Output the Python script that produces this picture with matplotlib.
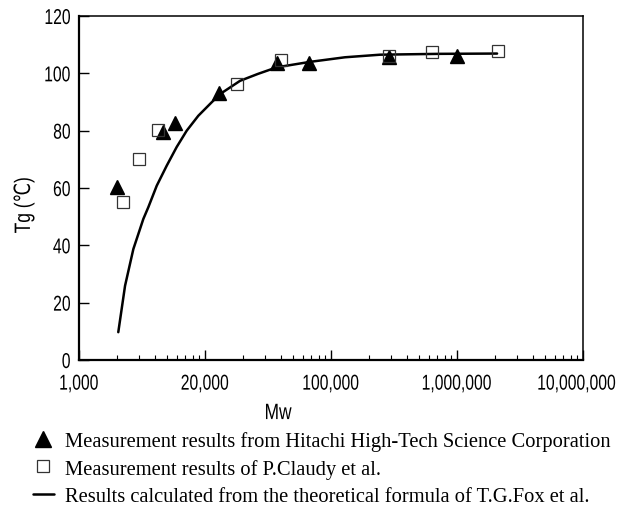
import matplotlib
matplotlib.use("Agg")
import matplotlib.pyplot as plt
from matplotlib.patheffects import AbstractPathEffect
from matplotlib.transforms import Affine2D, ScaledTranslation

# ---------------- data ----------------
hitachi_mw = [2000, 4640, 5780, 12900, 37000, 67500, 290000, 1000000]
hitachi_tg = [60.3, 79.5, 82.6, 93.1, 103.6, 103.6, 105.7, 106.0]

claudy_mw = [2230, 2990, 4240, 17900, 40000, 290000, 630000, 2110000]
claudy_tg = [55.1, 70.1, 80.2, 96.3, 104.6, 106.0, 107.4, 107.8]

fox_mw = [2050, 2320, 2700, 3240, 3550, 4140, 4970, 5960, 7160, 8850,
          11300, 13200, 19000, 26300, 37100, 68100, 129000, 245000,
          733000, 2080000]
fox_tg = [9.7, 25.9, 38.7, 49.2, 53.3, 60.8, 67.8, 74.3, 80.0, 85.2,
          89.9, 92.8, 97.4, 99.8, 102.1, 104.0, 105.6, 106.5,
          106.8, 106.9]

x_ticks = [1000, 10000, 100000, 1000000, 10000000]
x_tick_labels = ["1,000", "20,000", "100,000", "1,000,000", "10,000,000"]
y_ticks = [0, 20, 40, 60, 80, 100, 120]

legend_labels = [
    "Measurement results from Hitachi High-Tech Science Corporation",
    "Measurement results of P.Claudy et al.",
    "Results calculated from the theoretical formula of T.G.Fox et al.",
]


# tall, narrow look of the condensed sans-serif axis texts:
# the text is set at its true (narrow) width and stretched vertically
class Stretch(AbstractPathEffect):
    def __init__(self, sy=1.37):
        super().__init__()
        self.sy = sy

    def draw_path(self, renderer, gc, tpath, affine, rgbFace=None):
        ext = tpath.get_extents()
        c = 0.5 * (ext.y0 + ext.y1)
        t = Affine2D().translate(0, -c).scale(1, self.sy).translate(0, c) + affine
        renderer.draw_path(gc, tpath, t, rgbFace)


sans = ["Liberation Sans", "DejaVu Sans"]
TICK_FS = 11.3
SY = 1.37

fig = plt.figure(figsize=(6.2, 5.06), dpi=100)
ax = fig.add_axes([79 / 620, 1 - 361 / 506, (583 - 79) / 620, (361 - 17) / 506])

ax.plot(fox_mw, fox_tg, color="black", lw=1.8, solid_capstyle="round",
        label=legend_labels[2], zorder=2)
ax.plot(hitachi_mw, hitachi_tg, linestyle="none", marker="^", ms=9.5,
        color="black", label=legend_labels[0], zorder=3)
ax.plot(claudy_mw, claudy_tg, linestyle="none", marker="s", ms=8.5,
        markerfacecolor="none", markeredgecolor="#333333", mew=0.9,
        label=legend_labels[1], zorder=4)

ax.set_xscale("log")
ax.set_xlim(1000, 10000000)
ax.set_ylim(0, 120)
ax.set_xticks(x_ticks)
ax.set_xticklabels(x_tick_labels)
ax.set_yticks(y_ticks)

ax.tick_params(axis="both", which="major", direction="in", length=7, width=1.0,
               labelsize=TICK_FS)
ax.tick_params(axis="x", which="minor", direction="in", length=3.6, width=0.8)
ax.tick_params(axis="x", which="major", pad=11.5)
ax.tick_params(axis="y", which="major", pad=6)
xlabs = ax.get_xticklabels()
for i, lab in enumerate(xlabs):
    lab.set_family(sans)
    lab.set_path_effects([Stretch(SY)])
    if i == len(xlabs) - 1:
        lab.set_transform(lab.get_transform()
                          + ScaledTranslation(-6 / 100, 0, fig.dpi_scale_trans))
for lab in ax.get_yticklabels():
    lab.set_family(sans)
    lab.set_path_effects([Stretch(SY)])

for s in ("left", "bottom"):
    ax.spines[s].set_linewidth(1.6)
for s in ("top", "right"):
    ax.spines[s].set_linewidth(1.1)

xl = ax.set_xlabel("Mw", fontsize=12.5, family=sans)
xl.set_path_effects([Stretch(1.28)])
ax.xaxis.set_label_coords((278 - 79) / 504, -0.132)
yl = ax.set_ylabel("Tg (\u2103)", fontsize=12.5, family=sans)
yl.set_path_effects([Stretch(1.28)])
ax.yaxis.set_label_coords(-0.094, 0.45)

h, l = ax.get_legend_handles_labels()
order = [1, 2, 0]
leg = fig.legend([h[i] for i in order], [l[i] for i in order],
                 loc="upper left", bbox_to_anchor=(33 / 620, 1 - 432 / 506),
                 frameon=False,
                 prop={"family": ["Liberation Serif", "DejaVu Serif"], "size": 14.8},
                 handlelength=1.0, handletextpad=0.55, labelspacing=0.38,
                 borderaxespad=0, borderpad=0)
leg.legend_handles[0].set_markersize(12)
leg.legend_handles[1].set_markersize(9)

fig.savefig("out.png", dpi=100)
